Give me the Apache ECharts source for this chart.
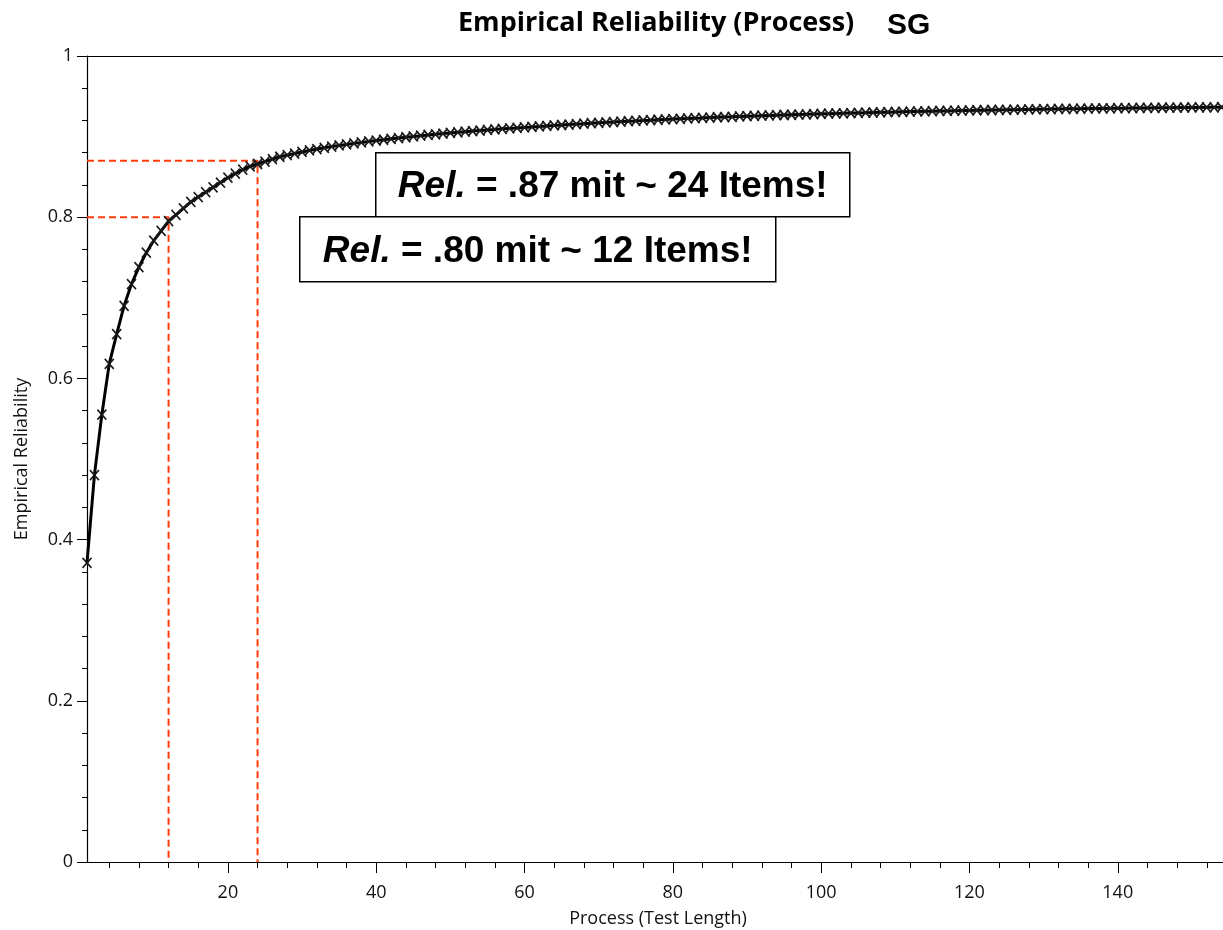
<!DOCTYPE html>
<html>
<head>
<meta charset="utf-8">
<title>Empirical Reliability (Process)</title>
<script src="https://cdn.jsdelivr.net/npm/echarts@6/dist/echarts.min.js"></script>
<style>
  html, body { margin: 0; padding: 0; background: #fff; }
  #chart { width: 1223px; height: 930px; }
</style>
</head>
<body>
<div id="chart"></div>
<script>
// Test length (number of items) 1..155
const testLength = [];
for (let n = 1; n <= 155; n++) testLength.push(n);

// Empirical reliability per test length
const reliability = [
  0.371, 0.480, 0.555, 0.618, 0.655, 0.690, 0.717, 0.738, 0.756, 0.771,
  0.783, 0.795, 0.803, 0.811, 0.819, 0.825, 0.831, 0.837, 0.843, 0.849,
  0.854, 0.859, 0.863, 0.866, 0.869, 0.872, 0.875, 0.877, 0.879, 0.881,
  0.8828, 0.8845, 0.8861, 0.8876, 0.8890, 0.8903, 0.8916, 0.8928, 0.8940, 0.8951,
  0.8961, 0.8972, 0.8982, 0.8992, 0.9002, 0.9011, 0.9020, 0.9029, 0.9037, 0.9045,
  0.9053, 0.9061, 0.9068, 0.9075, 0.9082, 0.9089, 0.9096, 0.9102, 0.9108, 0.9114,
  0.9120, 0.9126, 0.9132, 0.9138, 0.9144, 0.9150, 0.9155, 0.9160, 0.9166, 0.9171,
  0.9176, 0.9181, 0.9186, 0.9191, 0.9195, 0.9200, 0.9204, 0.9209, 0.9213, 0.9217,
  0.9221, 0.9225, 0.9229, 0.9232, 0.9236, 0.9240, 0.9243, 0.9246, 0.9250, 0.9253,
  0.9256, 0.9259, 0.9262, 0.9265, 0.9268, 0.9271, 0.9274, 0.9276, 0.9279, 0.9282,
  0.9284, 0.9287, 0.9289, 0.9292, 0.9294, 0.9297, 0.9299, 0.9301, 0.9303, 0.9306,
  0.9308, 0.9310, 0.9312, 0.9314, 0.9316, 0.9318, 0.9319, 0.9321, 0.9323, 0.9325,
  0.9327, 0.9328, 0.9330, 0.9331, 0.9333, 0.9334, 0.9336, 0.9337, 0.9339, 0.9340,
  0.9341, 0.9343, 0.9344, 0.9345, 0.9346, 0.9348, 0.9349, 0.9350, 0.9351, 0.9352,
  0.9353, 0.9354, 0.9355, 0.9356, 0.9357, 0.9358, 0.9359, 0.9360, 0.9361, 0.9362,
  0.9362, 0.9363, 0.9364, 0.9365, 0.9366
];

// Reference points: reliability reached at a given number of items
const markItems = [12, 24];
const markRel = [0.80, 0.87];
const markText = [
  '{i|Rel.} = .80 mit ~ 12 Items!',
  '{i|Rel.} = .87 mit ~ 24 Items!'
];

// Axis tick values
const xMajorTicks = [20, 40, 60, 80, 100, 120, 140];
const xMinorTicks = [];
for (let v = 4; v <= 152; v += 4) if (v % 20 !== 0) xMinorTicks.push(v);
const xMin = 1, xMax = 155;

const chart = echarts.init(document.getElementById('chart'), null, { renderer: 'canvas' });

const curve = testLength.map((n, i) => [n, reliability[i]]);

const guideSeries = markItems.map((n, k) => ({
  type: 'line',
  data: [[xMin, markRel[k]], [n, markRel[k]], [n, 0]],
  symbol: 'none',
  lineStyle: { color: '#ff3c0c', width: 2, type: [7, 4] },
  silent: true,
  z: 2
}));

const labelFont = '"Segoe UI", "Open Sans", "Noto Sans", sans-serif';
const boxFont = 'Arial, "Liberation Sans", sans-serif';

const option = {
  backgroundColor: '#ffffff',
  animation: false,
  grid: { left: 87, top: 56, bottom: 68, width: 1142, outerBoundsMode: 'none', containLabel: false },
  xAxis: [
    {
      type: 'value', min: xMin, max: xMax, position: 'bottom',
      name: 'Process (Test Length)', nameLocation: 'middle', nameGap: 48,
      nameTextStyle: { fontFamily: labelFont, fontSize: 18, color: '#111' },
      axisLine: { show: true, lineStyle: { color: '#000', width: 1.2 } },
      axisTick: { show: true, customValues: xMajorTicks, length: 11, lineStyle: { color: '#000' } },
      axisLabel: { customValues: xMajorTicks, margin: 22, fontFamily: labelFont, fontSize: 18, color: '#111' },
      splitLine: { show: false }
    },
    {
      type: 'value', min: xMin, max: xMax, position: 'bottom',
      axisLine: { show: false },
      axisTick: { show: true, customValues: xMinorTicks, length: 6, lineStyle: { color: '#000' } },
      axisLabel: { show: false },
      splitLine: { show: false }
    },
    {
      type: 'value', min: xMin, max: xMax, position: 'top',
      axisLine: { show: true, lineStyle: { color: '#000', width: 1.2 } },
      axisTick: { show: false },
      axisLabel: { show: false },
      splitLine: { show: false }
    }
  ],
  yAxis: {
    type: 'value', min: 0, max: 1, interval: 0.2,
    name: 'Empirical Reliability', nameLocation: 'middle', nameGap: 56, nameRotate: 90,
    nameTextStyle: { fontFamily: labelFont, fontSize: 18, color: '#111' },
    axisLine: { show: true, lineStyle: { color: '#000', width: 1.2 } },
    axisTick: { show: true, length: 10, lineStyle: { color: '#000' } },
    minorTick: { show: true, splitNumber: 5, length: 5, lineStyle: { color: '#000' } },
    axisLabel: { margin: 14, fontFamily: labelFont, fontSize: 18, color: '#111' },
    splitLine: { show: false }
  },
  series: [
    ...guideSeries,
    {
      type: 'line',
      data: curve,
      xAxisIndex: 0,
      showSymbol: true, showAllSymbol: true,
      symbol: 'path://M0,0L10,10M0,10L10,0',
      symbolSize: [9, 10],
      itemStyle: { color: '#000', borderColor: '#1a1a1a', borderWidth: 1.7 },
      lineStyle: { color: '#000', width: 3 },
      clip: true,
      z: 3
    }
  ],
  graphic: [
    {
      type: 'text', left: 458, top: 10,
      style: { text: 'Empirical Reliability (Process)', font: 'bold 27px ' + labelFont, fill: '#000' }
    },
    {
      type: 'text', left: 887, top: 11,
      style: { text: 'SG', font: 'bold 30px ' + boxFont, fill: '#000' }
    },
    {
      type: 'group', left: 375, top: 152,
      children: [
        { type: 'rect', shape: { x: 0, y: 0, width: 474, height: 64 },
          style: { fill: '#fff', stroke: '#000', lineWidth: 1.5 } },
        { type: 'text', x: 237, y: 34,
          style: {
            text: markText[1], align: 'center', verticalAlign: 'middle',
            font: 'bold 37px ' + boxFont, fill: '#000',
            rich: { i: { font: 'italic bold 37px ' + boxFont, fill: '#000' } }
          } }
      ]
    },
    {
      type: 'group', left: 299, top: 216,
      children: [
        { type: 'rect', shape: { x: 0, y: 0, width: 476, height: 65 },
          style: { fill: '#fff', stroke: '#000', lineWidth: 1.5 } },
        { type: 'text', x: 238, y: 35,
          style: {
            text: markText[0], align: 'center', verticalAlign: 'middle',
            font: 'bold 37px ' + boxFont, fill: '#000',
            rich: { i: { font: 'italic bold 37px ' + boxFont, fill: '#000' } }
          } }
      ]
    }
  ]
};

chart.setOption(option);
</script>
</body>
</html>
